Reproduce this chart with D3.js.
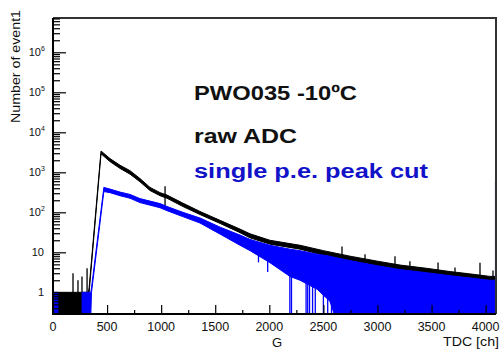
<!DOCTYPE html>
<html>
<head>
<meta charset="utf-8">
<script src="https://cdn.jsdelivr.net/npm/d3@7"></script>
<style>
  body { margin: 0; background: #fff; }
  svg { display: block; }
  text { font-family: "Liberation Sans", Arial, Helvetica, sans-serif; }
</style>
</head>
<body>
<script>
// ---- axis ticks ----
const xTicks = [0, 500, 1000, 1500, 2000, 2500, 3000, 3500, 4000];
const xMinorTicks = [250, 750, 1250, 1750, 2250, 2750, 3250, 3750];
const yDecades = [1, 10, 100, 1e3, 1e4, 1e5, 1e6];
const yTickBase = ["1", "10", "10", "10", "10", "10", "10"];
const yTickExp = ["", "", "2", "3", "4", "5", "6"];

// ---- raw ADC spectrum: channel, upper and lower edge of the noise band (counts) ----
const rawCh = [0, 328, 334, 444, 527, 620, 712, 804, 897, 990, 1054, 1200, 1359, 1550, 1729, 1822, 2006, 2284, 2500, 2746, 3000, 3209, 3450, 3671, 3850, 4041, 4090];
const rawHi = [1, 1, 1.3, 3400, 2200, 1500, 1100, 700, 420, 310, 270, 170, 105, 62, 38, 29, 20, 15, 11, 8, 6, 4.8, 4, 3.3, 2.9, 2.5, 2.5];
const rawLo = [0, 0, 1, 2900, 1850, 1250, 900, 580, 350, 260, 225, 140, 88, 52, 31, 23, 16, 12, 8.5, 6.2, 4.6, 3.7, 3.1, 2.6, 2.3, 2, 2];

// single bins of the raw spectrum sticking out of the band
const rawSpikeCh = [185, 231, 268, 315, 1036, 2672, 2885, 3162, 3300, 3560, 3717, 3948, 4068];
const rawSpikeTop = [3, 2, 2.5, 4, 450, 14, 9, 8, 6, 5.6, 4.2, 5.5, 3.5];
const rawSpikeBottom = [1, 1, 1, 1, 130, 2, 2, 2, 2, 2, 2, 2, 1.5];

// ---- spectrum after the single p.e. peak cut (null = no entries) ----
const cutCh = [0, 45, 46, 268, 269, 350, 356, 470, 527, 620, 712, 804, 990, 1054, 1200, 1359, 1550, 1729, 1822, 2006, 2191, 2284, 2441, 2560, 2600, 2746, 3000, 3209, 3450, 3671, 4041, 4090];
const cutHi = [1, 1, null, null, 1, 1, 1.3, 420, 380, 320, 280, 220, 165, 140, 100, 72, 42, 27, 21, 15, 12, 11, 9, 8, 7.5, 6.2, 4.6, 3.7, 3.1, 2.6, 2, 2];
const cutLo = [0, 0, null, null, 0, 0, 1, 330, 310, 260, 225, 175, 130, 110, 78, 54, 28, 15, 11, 5.5, 2.5, 2, 1.2, 0.6, 0, 0, 0, 0, 0, 0, 0, 0];

// bins of the cut spectrum dipping below the band (0 = empty bin)
const cutDipCh = [1900, 1985, 2190, 2205, 2340, 2355, 2372, 2400, 2425, 2500, 2540, 2575, 2610];
const cutDipTop = [9, 7, 4, 4, 3, 3, 3, 2.5, 2.5, 2, 2, 2, 2];
const cutDipBottom = [5.6, 3.2, 0, 0, 0, 0, 0, 0, 0, 0, 0, 0, 0];

// last channel of both spectra
const lastBinCh = 4093;
const lastBinCount = 600;

const W = 502, H = 349;
const frameL = 53, frameR = 496, frameT = 18, frameB = 314;

const svg = d3.select("body").append("svg")
  .attr("width", W).attr("height", H);
svg.append("rect").attr("width", W).attr("height", H).attr("fill", "#fff");

const x = d3.scaleLinear().domain([0, 4096]).range([frameL, frameR]);
const y = d3.scaleLog().domain([0.287, 7.2e6]).range([frameB, frameT]);
const yv = v => (v > 0 ? Math.max(frameT, Math.min(frameB, y(v))) : frameB);

const band = d3.area()
  .defined(d => d.hi != null)
  .x(d => x(d.ch))
  .y0(d => yv(d.lo))
  .y1(d => yv(d.hi));

const rawRows = rawCh.map((c, i) => ({ ch: c, hi: rawHi[i], lo: rawLo[i] }));
const cutRows = cutCh.map((c, i) => ({ ch: c, hi: cutHi[i], lo: cutLo[i] }));

const plot = svg.append("g");

// raw ADC
plot.append("path").datum(rawRows)
  .attr("d", band)
  .attr("fill", "#000").attr("stroke", "#000").attr("stroke-width", 1);

plot.append("g").selectAll("line")
  .data(rawSpikeCh.map((c, i) => ({ ch: c, t: rawSpikeTop[i], b: rawSpikeBottom[i] })))
  .join("line")
  .attr("x1", d => x(d.ch)).attr("x2", d => x(d.ch))
  .attr("y1", d => yv(d.t)).attr("y2", d => yv(d.b))
  .attr("stroke", "#000").attr("stroke-width", 1.3);

// single p.e. peak cut
plot.append("path").datum(cutRows)
  .attr("d", band)
  .attr("fill", "#0000ff").attr("stroke", "#0000ff").attr("stroke-width", 1);

plot.append("g").selectAll("line")
  .data(cutDipCh.map((c, i) => ({ ch: c, t: cutDipTop[i], b: cutDipBottom[i] })))
  .join("line")
  .attr("x1", d => x(d.ch)).attr("x2", d => x(d.ch))
  .attr("y1", d => yv(d.t)).attr("y2", d => yv(d.b))
  .attr("stroke", "#0000ff").attr("stroke-width", 1.3);

plot.append("line")
  .attr("x1", x(lastBinCh)).attr("x2", x(lastBinCh))
  .attr("y1", yv(lastBinCount)).attr("y2", frameB)
  .attr("stroke", "#0000ff").attr("stroke-width", 1.5);

// ---- frame ----
svg.append("path")
  .attr("d", `M${frameL},${frameT}H${frameR}V${frameB}`)
  .attr("fill", "none").attr("stroke", "#333").attr("stroke-width", 2);

// ---- y axis: ticks point into the frame ----
const yMinor = [];
for (let e = -1; e <= 6; e++) {
  for (let m = 2; m <= 9; m++) {
    const v = m * Math.pow(10, e);
    if (v >= 0.287 && v <= 7.2e6) yMinor.push(v);
  }
}
const yAxisMajor = svg.append("g").attr("transform", `translate(${frameL},0)`)
  .call(d3.axisRight(y).tickValues(yDecades).tickSize(13).tickFormat(""));
const yAxisMinor = svg.append("g").attr("transform", `translate(${frameL},0)`)
  .call(d3.axisRight(y).tickValues(yMinor).tickSize(7).tickFormat(""));
[yAxisMajor, yAxisMinor].forEach(g => {
  g.select(".domain").remove();
  g.selectAll("line").attr("stroke", "#000").attr("stroke-width", 1.2);
});

const yLab = svg.append("g").attr("font-size", 11).attr("fill", "#111");
yDecades.forEach((v, i) => {
  yLab.append("text")
    .attr("x", yTickExp[i] ? 41 : 44)
    .attr("y", y(v) + 4)
    .attr("text-anchor", "end")
    .text(yTickBase[i]);
  if (yTickExp[i]) {
    yLab.append("text")
      .attr("x", 41).attr("y", y(v) - 1)
      .attr("font-size", 7)
      .text(yTickExp[i]);
  }
});

// ---- x axis: ticks point up into the frame ----
const xAxisMajor = svg.append("g").attr("transform", `translate(0,${frameB})`)
  .call(d3.axisTop(x).tickValues(xTicks).tickSize(9).tickFormat(""));
const xAxisMinor = svg.append("g").attr("transform", `translate(0,${frameB})`)
  .call(d3.axisTop(x).tickValues(xMinorTicks).tickSize(4).tickFormat(""));
[xAxisMajor, xAxisMinor].forEach(g => {
  g.select(".domain").remove();
  g.selectAll("line").attr("stroke", "#000").attr("stroke-width", 1.2);
});

svg.append("g").selectAll("text")
  .data(xTicks).join("text")
  .attr("x", d => x(d)).attr("y", 331)
  .attr("text-anchor", "middle")
  .attr("font-size", 12.5).attr("fill", "#111")
  .text(d => d);

// axis lines
svg.append("path")
  .attr("d", `M${frameL},${frameT}V${frameB}H${frameR}`)
  .attr("fill", "none").attr("stroke", "#000").attr("stroke-width", 2);

// ---- axis titles ----
svg.append("text")
  .attr("transform", "translate(20,123) rotate(-90)")
  .attr("font-size", 12).attr("fill", "#111")
  .attr("textLength", 113).attr("lengthAdjust", "spacingAndGlyphs")
  .text("Number of event1");

svg.append("text")
  .attr("x", 443).attr("y", 346)
  .attr("font-size", 12.5).attr("fill", "#111")
  .attr("textLength", 56).attr("lengthAdjust", "spacingAndGlyphs")
  .text("TDC [ch]");

svg.append("text")
  .attr("x", 277).attr("y", 347).attr("text-anchor", "middle")
  .attr("font-size", 13).attr("fill", "#111")
  .text("G");

// ---- legend text ----
const legend = [
  { text: "PWO035 -10ºC", y: 100, w: 163, color: "#111" },
  { text: "raw ADC", y: 143, w: 103, color: "#111" },
  { text: "single p.e. peak cut", y: 178, w: 234, color: "#1212c8" }
];
svg.append("g").selectAll("text")
  .data(legend).join("text")
  .attr("x", 194).attr("y", d => d.y)
  .attr("font-size", 20).attr("font-weight", "bold")
  .attr("fill", d => d.color)
  .attr("textLength", d => d.w).attr("lengthAdjust", "spacingAndGlyphs")
  .text(d => d.text);
</script>
</body>
</html>
